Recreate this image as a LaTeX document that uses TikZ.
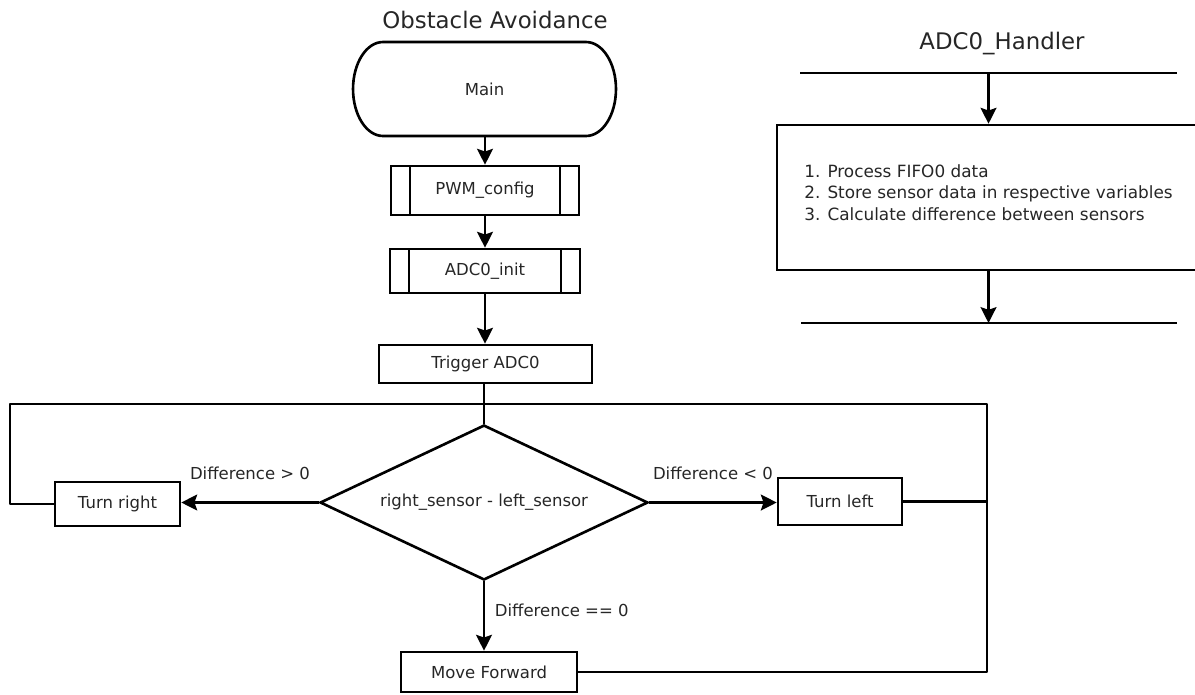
\documentclass[tikz,border=0pt]{standalone}
\usepackage{fontspec}
\setmainfont{DejaVu Sans}
\usepackage{tikz}
\usetikzlibrary{arrows.meta, calc, positioning, shapes.geometric}

\begin{document}
\begin{tikzpicture}[x=0.02cm, y=-0.02cm,
    >={Stealth[length=9pt, width=9pt, inset=1.5pt]},
    line/.style={line width=1.5pt, black, line join=round},
    box/.style={draw, rectangle, line width=1.5pt, inner sep=0pt, text=black!85,
        font=\fontsize{9.4}{11.9}\selectfont},
    subproc/.style={box, path picture={
        \draw[line width=1.5pt] ([xshift=0.38cm]path picture bounding box.north west)
            -- ([xshift=0.38cm]path picture bounding box.south west);
        \draw[line width=1.5pt] ([xshift=-0.38cm]path picture bounding box.north east)
            -- ([xshift=-0.38cm]path picture bounding box.south east);}},
    decision/.style={draw, diamond, aspect=2.1, line width=1.5pt, inner sep=0pt,
        text=black!85, font=\fontsize{9.4}{11.9}\selectfont},
    lbl/.style={font=\fontsize{9.4}{11.9}\selectfont, text=black!85, inner sep=2pt},
    title/.style={font=\fontsize{13}{15}\selectfont, text=black!85, anchor=base}]
    \useasboundingbox (0,0) rectangle (1195,694);

    % titles
    \node[title] (ttlmain) at (495,28) {Obstacle Avoidance};
    \node[title] (ttlhand) at (1002,49) {ADC0\_Handler};

    % main column
    \node[box, draw=none, outer sep=0pt, minimum width=5.26cm, minimum height=1.88cm] (main) at (484.5,89) {Main};
    \draw[line] ([xshift=0.6cm]main.north west)
        arc[start angle=90, end angle=270, x radius=0.6cm, y radius=0.94cm]
        -- ([xshift=-0.6cm]main.south east)
        arc[start angle=-90, end angle=90, x radius=0.6cm, y radius=0.94cm] -- cycle;
    \node[subproc, minimum width=3.76cm, minimum height=0.98cm] (pwm) at (485,190.5) {PWM\_config};
    \node[subproc, minimum width=3.8cm, minimum height=0.88cm] (adcinit) at (485,271) {ADC0\_init};
    \node[box, minimum width=4.26cm, minimum height=0.76cm] (trig) at (485.5,364) {Trigger ADC0};
    \node[decision, minimum width=6.56cm, minimum height=3.1cm] (dec) at (484,502.5) {right\_sensor - left\_sensor};

    % branches
    \node[box, minimum width=2.5cm, minimum height=0.88cm] (tright) at (117.5,504) {Turn right};
    \node[box, minimum width=2.48cm, minimum height=0.94cm] (tleft) at (840,501.5) {Turn left};
    \node[box, minimum width=3.52cm, minimum height=0.8cm] (fwd) at (489,672) {Move Forward};

    % handler
    \node[box, align=left, font=\fontsize{9.6}{12}\selectfont, minimum width=8.46cm,
        minimum height=2.9cm, text height=1.1cm, text depth=0.2cm] (handler) at (988.5,197.5)
        {1. Process FIFO0 data\\2. Store sensor data in respective variables\\3. Calculate difference between sensors};
    \coordinate (htopL) at (800,73);
    \coordinate (htopR) at (1177,73);
    \coordinate (hin) at (988.5,73);
    \coordinate (hbotL) at (801,323);
    \coordinate (hbotR) at (1177,323);
    \coordinate (hout) at (988.5,323);

    % connectors
    \draw[line, ->] (main.south -| pwm.north) -- (pwm.north);
    \draw[line, ->] (pwm.south) -- (adcinit.north);
    \draw[line, ->] (adcinit.south) -- (adcinit.south |- trig.north);
    \draw[line] (trig.south -| dec.north) -- (dec.north);
    \draw[line, ->] (dec.west) -- (dec.west -| tright.east)
        node[lbl, midway, above=0.36cm] (lgt) {Difference > 0};
    \draw[line, ->] (dec.east) -- (dec.east -| tleft.west)
        node[lbl, midway, above=0.36cm] (llt) {Difference < 0};
    \draw[line, ->] (dec.south) -- (dec.south |- fwd.north)
        node[lbl, midway, right=0.12cm, yshift=0.12cm] (leq) {Difference == 0};

    % loop back
    \coordinate (join) at (484,404);
    \coordinate (lcorner) at (10,404);
    \coordinate (rcorner) at (987,404);
    \draw[line] (tright.west) -| (lcorner) -- (join);
    \draw[line] (tleft.east) -| (rcorner) -- (join);
    \draw[line] (fwd.east) -| (tleft.east -| rcorner);

    % handler lines
    \draw[line] (htopL) -- (htopR);
    \draw[line, ->] (hin) -- (handler.north);
    \draw[line, ->] (handler.south) -- (hout);
    \draw[line] (hbotL) -- (hbotR);
\end{tikzpicture}
\end{document}
